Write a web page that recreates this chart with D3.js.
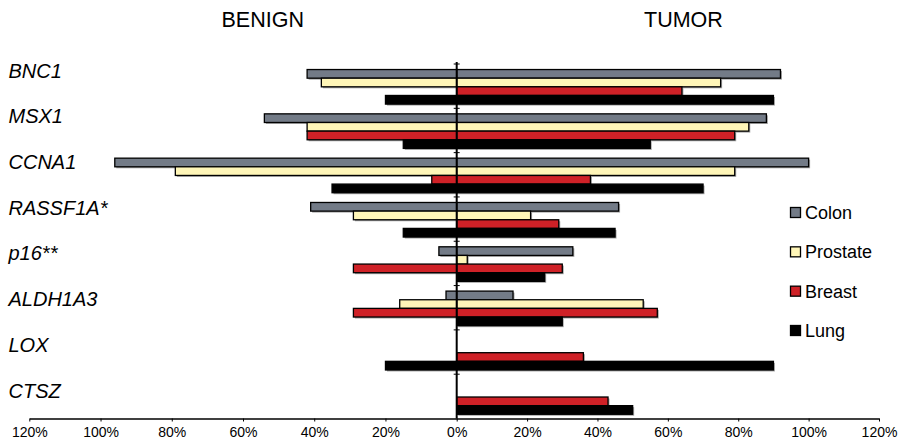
<!DOCTYPE html>
<html>
<head>
<meta charset="utf-8">
<script src="https://cdn.jsdelivr.net/npm/d3@7/dist/d3.min.js"></script>
<style>
  html, body { margin: 0; padding: 0; background: #fff; }
  svg { display: block; }
  text { font-family: "Liberation Sans", Arial, sans-serif; fill: #000; }
</style>
</head>
<body>
<svg id="chart" width="902" height="445"></svg>
<script>
// ---- Data ----
const categories = ["BNC1", "MSX1", "CCNA1", "RASSF1A*", "p16**", "ALDH1A3", "LOX", "CTSZ"];
const seriesNames = ["Colon", "Prostate", "Breast", "Lung"];
const seriesColors = ["#737b87", "#fff6b8", "#cf2127", "#000000"];

// Benign (left side), percent
const benignColon    = [42, 54, 96, 41, 5, 3, 0, 0];
const benignProstate = [38, 42, 79, 29, 0, 16, 0, 0];
const benignBreast   = [0, 42, 7, 0, 29, 29, 0, 0];
const benignLung     = [20, 15, 35, 15, 0, 0, 20, 0];

// Tumor (right side), percent
const tumorColon    = [92, 88, 100, 46, 33, 16, 0, 0];
const tumorProstate = [75, 83, 79, 21, 3, 53, 0, 0];
const tumorBreast   = [64, 79, 38, 29, 30, 57, 36, 43];
const tumorLung     = [90, 55, 70, 45, 25, 30, 90, 50];

const tickValues = [-120, -100, -80, -60, -40, -20, 0, 20, 40, 60, 80, 100, 120];
const sideTitles = ["BENIGN", "TUMOR"];

const benign = [benignColon, benignProstate, benignBreast, benignLung];
const tumor = [tumorColon, tumorProstate, tumorBreast, tumorLung];

// ---- Layout ----
const svg = d3.select("#chart");
const x = d3.scaleLinear().domain([-120, 0, 120]).range([29.3, 456.7, 879]);
const y = d3.scaleBand().domain(categories).range([64, 418.5]).paddingInner(0).paddingOuter(0);
const bw = y.bandwidth();
const ySeries = d3.scaleBand().domain(seriesNames).range([bw * 0.125, bw * 0.905]).padding(0);
// label positions (the labels sit on a slightly wider grid than the bars)
const yLabel = d3.scalePoint().domain(categories).range([77.5, 397.5]);

// build bar records
const bars = [];
categories.forEach((c, i) => {
  seriesNames.forEach((s, j) => {
    const b = benign[j][i], t = tumor[j][i];
    if (b > 0) bars.push({ cat: c, series: s, color: seriesColors[j], x0: x(-b), x1: x(0) });
    if (t > 0) bars.push({ cat: c, series: s, color: seriesColors[j], x0: x(0), x1: x(t) });
  });
});

const g = svg.append("g");

// shadows
g.selectAll("rect.shadow").data(bars).join("rect")
  .attr("class", "shadow")
  .attr("x", d => d.x0 + 1.5)
  .attr("y", d => y(d.cat) + ySeries(d.series) + 1.5)
  .attr("width", d => d.x1 - d.x0)
  .attr("height", ySeries.bandwidth())
  .attr("fill", "#a8a8a8");

// bars
g.selectAll("rect.bar").data(bars).join("rect")
  .attr("class", "bar")
  .attr("x", d => d.x0)
  .attr("y", d => y(d.cat) + ySeries(d.series))
  .attr("width", d => d.x1 - d.x0)
  .attr("height", ySeries.bandwidth())
  .attr("fill", d => d.color)
  .attr("stroke", "#000")
  .attr("stroke-width", 1.3);

// x axis
const xAxis = d3.axisBottom(x)
  .tickValues(tickValues)
  .tickFormat(d => Math.abs(d) + "%")
  .tickSize(3)
  .tickSizeOuter(0)
  .tickPadding(6);
const gx = svg.append("g").attr("transform", "translate(0,418.5)").call(xAxis);
gx.select(".domain").attr("stroke", "#000").attr("stroke-width", 1.5);
gx.selectAll(".tick line").attr("stroke", "#000").attr("stroke-width", 1);
gx.selectAll(".tick text")
  .attr("font-size", 14)
  .attr("font-family", "Liberation Sans, Arial, sans-serif")
  .attr("fill", "#000");

// vertical center axis
const yBoundaries = categories.map(c => y(c));
svg.append("line")
  .attr("x1", x(0)).attr("x2", x(0))
  .attr("y1", 62).attr("y2", 418.5)
  .attr("stroke", "#000").attr("stroke-width", 2);
svg.selectAll("line.ytick").data(yBoundaries).join("line")
  .attr("class", "ytick")
  .attr("x1", x(0) - 3).attr("x2", x(0) + 3)
  .attr("y1", d => d).attr("y2", d => d)
  .attr("stroke", "#000").attr("stroke-width", 1);

// category labels
svg.selectAll("text.cat").data(categories).join("text")
  .attr("class", "cat")
  .attr("x", 8.5)
  .attr("y", d => yLabel(d))
  .attr("font-size", 20)
  .attr("font-style", "italic")
  .text(d => d);

// side titles
svg.append("text").attr("x", 221.5).attr("y", 27).attr("font-size", 21.5).text(sideTitles[0]);
svg.append("text").attr("x", 644).attr("y", 27).attr("font-size", 21.5).text(sideTitles[1]);

// legend
const legendY = d3.scalePoint().domain(seriesNames).range([212.5, 330.5]);
const lg = svg.append("g");
lg.selectAll("rect").data(seriesNames).join("rect")
  .attr("x", 790.5)
  .attr("y", d => legendY(d) - 5)
  .attr("width", 10)
  .attr("height", 10)
  .attr("fill", (d, i) => seriesColors[i])
  .attr("stroke", "#000")
  .attr("stroke-width", 1.3);
lg.selectAll("text").data(seriesNames).join("text")
  .attr("x", 805)
  .attr("y", d => legendY(d) + 6.5)
  .attr("font-size", 18)
  .text(d => d);
</script>
</body>
</html>
